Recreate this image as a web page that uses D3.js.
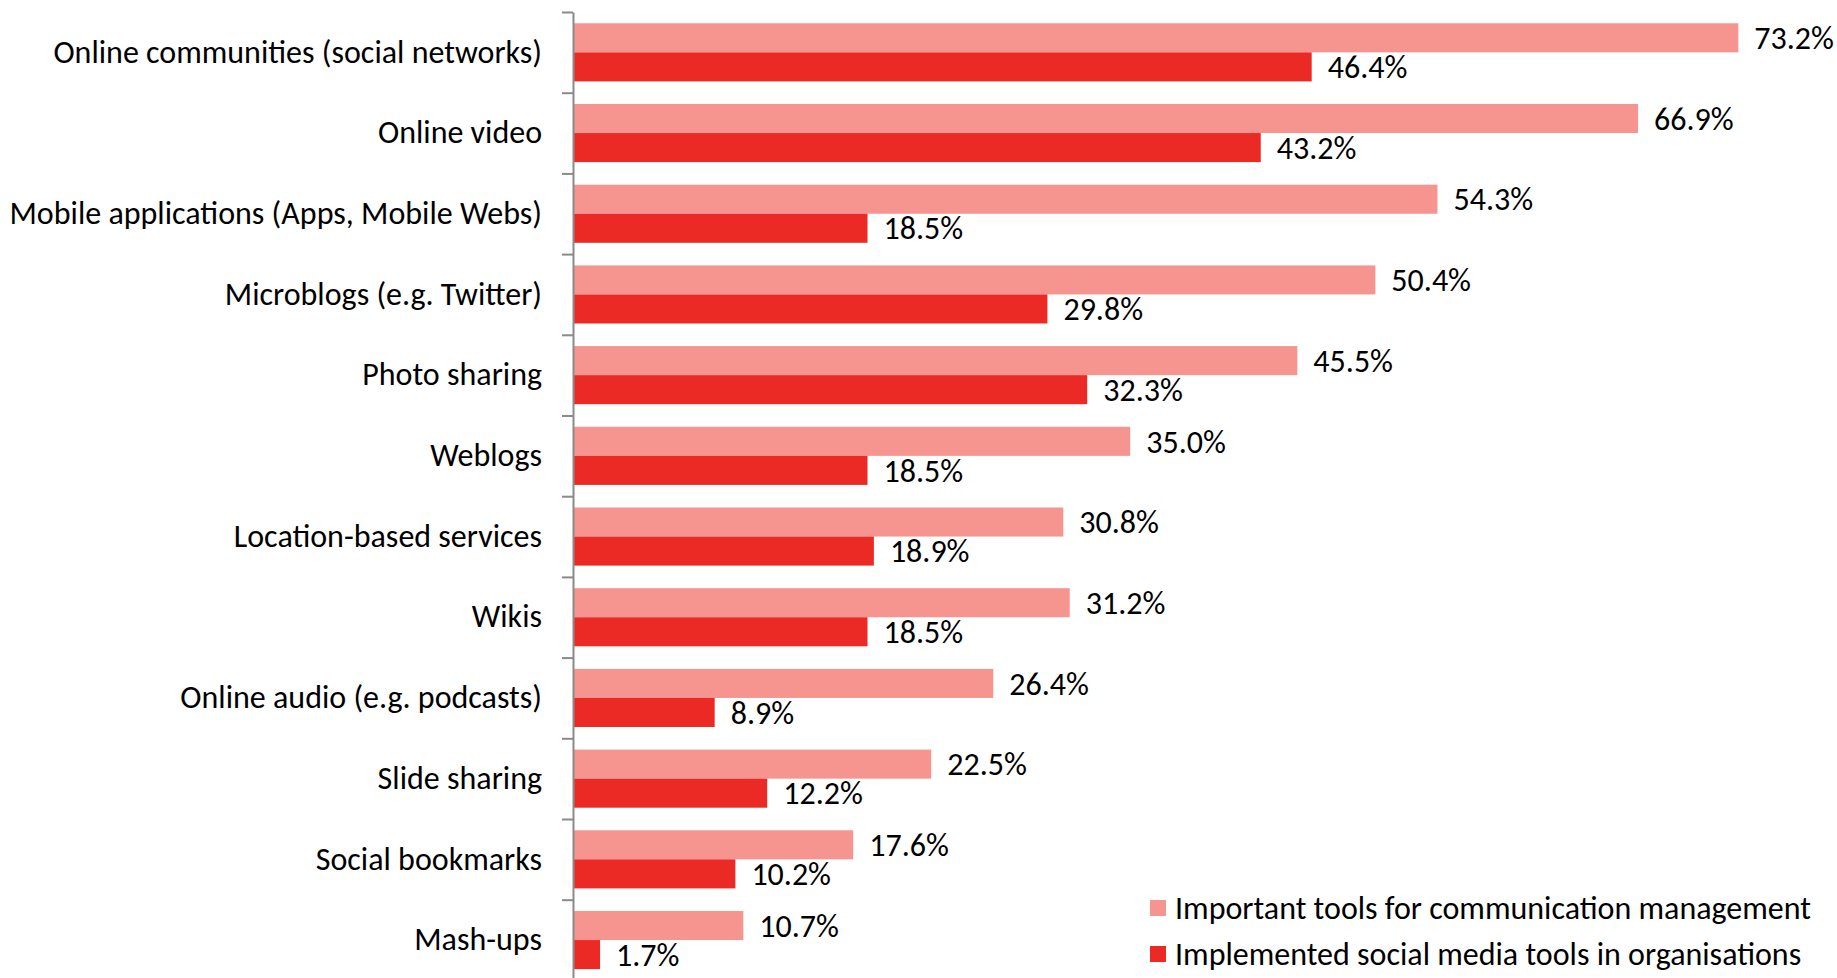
<!DOCTYPE html>
<html>
<head>
<meta charset="utf-8">
<script src="https://cdn.jsdelivr.net/npm/d3@7"></script>
<style>
  body { margin: 0; background: #fff; }
  text { font-family: Carlito, Calibri, Lato, sans-serif; fill: #000; }
</style>
</head>
<body>
<div id="chart"></div>
<script>
// data
var categories = [
  "Online communities (social networks)",
  "Online video",
  "Mobile applications (Apps, Mobile Webs)",
  "Microblogs (e.g. Twitter)",
  "Photo sharing",
  "Weblogs",
  "Location-based services",
  "Wikis",
  "Online audio (e.g. podcasts)",
  "Slide sharing",
  "Social bookmarks",
  "Mash-ups"
];
var important = [73.2, 66.9, 54.3, 50.4, 45.5, 35.0, 30.8, 31.2, 26.4, 22.5, 17.6, 10.7];
var implemented = [46.4, 43.2, 18.5, 29.8, 32.3, 18.5, 18.9, 18.5, 8.9, 12.2, 10.2, 1.7];
var seriesNames = ["Important tools for communication management", "Implemented social media tools in organisations"];
var seriesColors = ["#f69490", "#ec2a25"];

var svgWidth = 1837;
var svgHeight = 978;
var fontSize = 32;

var svg = d3.select("#chart")
  .append("svg")
  .attr("width", svgWidth)
  .attr("height", svgHeight);

var axisX = 573;
var topY = 12;
var step = 80.7;

// scales
var x = d3.scaleLinear()
  .domain([0, 80])
  .range([axisX, axisX + 80 * 15.92]);

var y = d3.scaleBand()
  .domain(categories)
  .range([topY, topY + step * categories.length])
  .paddingInner(0.28)
  .paddingOuter(0.14);

var inner = d3.scaleBand()
  .domain([0, 1])
  .range([0, y.bandwidth()]);

// category boundary ticks
var idx = d3.scaleLinear()
  .domain([0, categories.length])
  .range([topY, topY + step * categories.length]);

var rows = categories.map(function(c, i) {
  return {cat: c, vals: [important[i], implemented[i]]};
});

// bars
var groups = svg.selectAll(".row")
  .data(rows)
  .enter()
  .append("g")
  .attr("class", "row")
  .attr("transform", d => `translate(0, ${y(d.cat)})`);

groups.selectAll("rect")
  .data(d => d.vals)
  .enter()
  .append("rect")
  .attr("x", x(0))
  .attr("y", (d, i) => inner(i))
  .attr("width", d => x(d) - x(0))
  .attr("height", inner.bandwidth())
  .attr("fill", (d, i) => seriesColors[i]);

groups.selectAll(".val")
  .data(d => d.vals)
  .enter()
  .append("text")
  .attr("class", "val")
  .attr("x", d => x(d) + 16)
  .attr("y", (d, i) => inner(i) + inner.bandwidth() / 2)
  .attr("dy", "0.35em")
  .attr("font-size", fontSize + "px")
  .text(d => d.toFixed(1) + "%");

// axis
var yAxis = svg.append("g")
  .attr("transform", `translate(${axisX}, 0)`)
  .call(d3.axisLeft(idx).ticks(categories.length).tickFormat("").tickSize(11).tickSizeOuter(0));
yAxis.select(".domain").attr("stroke", "#8a8a8a").attr("stroke-width", 2);
yAxis.selectAll(".tick line").attr("stroke", "#8a8a8a").attr("stroke-width", 2);

// category labels
svg.selectAll(".cat")
  .data(categories)
  .enter()
  .append("text")
  .attr("class", "cat")
  .attr("x", 542)
  .attr("y", d => y(d) + y.bandwidth() / 2 - 1)
  .attr("dy", "0.35em")
  .attr("text-anchor", "end")
  .attr("font-size", fontSize + "px")
  .text(d => d);

// legend
var legend = svg.append("g")
  .attr("transform", "translate(1150, 908)");
var items = legend.selectAll(".item")
  .data(seriesNames)
  .enter()
  .append("g")
  .attr("transform", (d, i) => `translate(0, ${i * 46})`);
items.append("rect")
  .attr("x", 0)
  .attr("y", -8)
  .attr("width", 16)
  .attr("height", 16)
  .attr("fill", (d, i) => seriesColors[i]);
items.append("text")
  .attr("x", 25)
  .attr("y", 0)
  .attr("dy", "0.35em")
  .attr("font-size", fontSize + "px")
  .text(d => d);
</script>
</body>
</html>
